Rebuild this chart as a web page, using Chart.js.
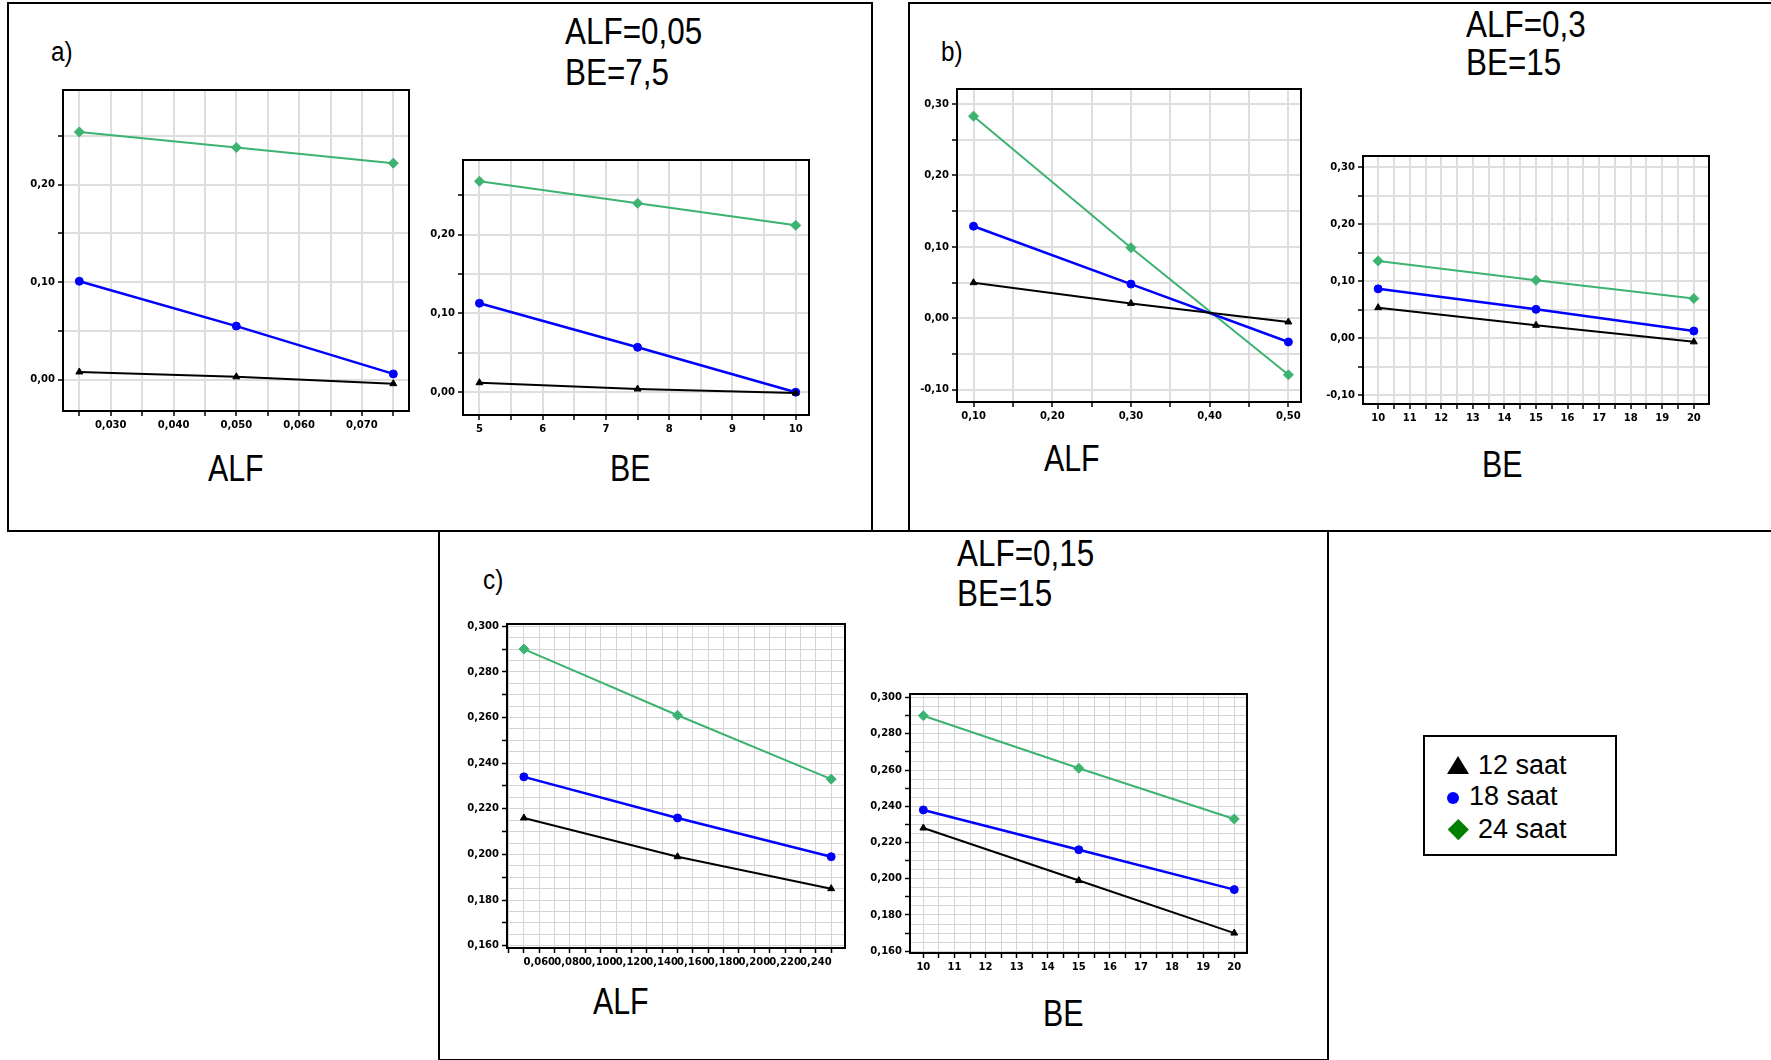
<!DOCTYPE html>
<html>
<head>
<meta charset="utf-8">
<title>ALF / BE</title>
<script src="https://cdn.jsdelivr.net/npm/chart.js@4.4.1/dist/chart.umd.min.js"></script>
<style>
  html, body { margin: 0; padding: 0; background: #fff; }
  body { width: 1771px; height: 1060px; position: relative; overflow: hidden;
         font-family: "Liberation Sans", Arial, sans-serif; color: #000; }
  .box { position: absolute; border: 2px solid #000; box-sizing: border-box; }
  .txt { position: absolute; line-height: 1; white-space: nowrap; transform-origin: 0 0; }
  .param { font-size: 37px; transform: scaleX(0.85); }
  .axis { font-size: 37px; transform: scaleX(0.82); }
  .tag { font-size: 27px; transform: scaleX(0.9); }
  .leg { font-size: 27px; }
  canvas { position: absolute; }
  .tri { position: absolute; width: 0; height: 0; border-left: 11px solid transparent;
         border-right: 11px solid transparent; border-bottom: 18px solid #000; }
  .dot { position: absolute; width: 12px; height: 12px; border-radius: 50%; background: #0000ff; }
  .dia { position: absolute; width: 14.6px; height: 14.6px; background: #008000; transform: rotate(45deg); }
</style>
</head>
<body>

<!-- panel frames -->
<div class="box" style="left:7px; top:2px; width:866px; height:530px;"></div>
<div class="box" style="left:908px; top:2px; width:870px; height:530px;"></div>
<div class="box" style="left:438px; top:530px; width:891px; height:531px;"></div>

<!-- panel a -->
<div class="txt tag" style="left:51px; top:39px;">a)</div>
<div class="txt param" style="left:565px; top:13px;">ALF=0,05</div>
<div class="txt param" style="left:565px; top:54px;">BE=7,5</div>
<div class="txt axis" style="left:208px; top:450px;">ALF</div>
<div class="txt axis" style="left:610px; top:450px;">BE</div>

<!-- panel b -->
<div class="txt tag" style="left:941px; top:39px;">b)</div>
<div class="txt param" style="left:1466px; top:6px;">ALF=0,3</div>
<div class="txt param" style="left:1466px; top:44px;">BE=15</div>
<div class="txt axis" style="left:1044px; top:440px;">ALF</div>
<div class="txt axis" style="left:1482px; top:446px;">BE</div>

<!-- panel c -->
<div class="txt tag" style="left:483px; top:567px;">c)</div>
<div class="txt param" style="left:957px; top:535px;">ALF=0,15</div>
<div class="txt param" style="left:957px; top:575px;">BE=15</div>
<div class="txt axis" style="left:593px; top:983px;">ALF</div>
<div class="txt axis" style="left:1043px; top:995px;">BE</div>

<!-- legend -->
<div class="box" style="left:1423px; top:735px; width:194px; height:121px;"></div>
<div class="tri" style="left:1447px; top:756px;"></div>
<div class="dot" style="left:1447px; top:792px;"></div>
<div class="dia" style="left:1450.7px; top:822.2px;"></div>
<div class="txt leg" id="leg0" style="left:1478px; top:752px;"></div>
<div class="txt leg" id="leg1" style="left:1469px; top:783px;"></div>
<div class="txt leg" id="leg2" style="left:1478px; top:816px;"></div>

<script>
const series = ['12 saat', '18 saat', '24 saat'];
const lineColors = ['#000000', '#0000ff', '#3cb371'];
const pointStyles = ['triangle', 'circle', 'rectRot'];

// a) ALF=0,05  BE=7,5
const aAlf = [0.025, 0.05, 0.075];
const aAlf12 = [0.008, 0.003, -0.004];
const aAlf18 = [0.101, 0.055, 0.006];
const aAlf24 = [0.254, 0.238, 0.222];
const aBe = [5, 7.5, 10];
const aBe12 = [0.012, 0.004, -0.001];
const aBe18 = [0.113, 0.057, 0.000];
const aBe24 = [0.268, 0.240, 0.212];

// b) ALF=0,3  BE=15
const bAlf = [0.10, 0.30, 0.50];
const bAlf12 = [0.050, 0.021, -0.005];
const bAlf18 = [0.129, 0.048, -0.033];
const bAlf24 = [0.283, 0.099, -0.079];
const bBe = [10, 15, 20];
const bBe12 = [0.054, 0.023, -0.006];
const bBe18 = [0.087, 0.051, 0.013];
const bBe24 = [0.136, 0.102, 0.070];

// c) ALF=0,15  BE=15
const cAlf = [0.05, 0.15, 0.25];
const cAlf12 = [0.216, 0.199, 0.185];
const cAlf18 = [0.234, 0.216, 0.199];
const cAlf24 = [0.290, 0.261, 0.233];
const cBe = [10, 15, 20];
const cBe12 = [0.228, 0.199, 0.170];
const cBe18 = [0.238, 0.216, 0.194];
const cBe24 = [0.290, 0.261, 0.233];

// tick labels
const aYLabels = ['0,00', '0,10', '0,20'];
const bYLabels = ['-0,10', '0,00', '0,10', '0,20', '0,30'];
const cYLabels = ['0,160', '0,180', '0,200', '0,220', '0,240', '0,260', '0,280', '0,300'];
const aAlfXLabels = ['0,030', '0,040', '0,050', '0,060', '0,070'];
const aBeXLabels = ['5', '6', '7', '8', '9', '10'];
const bAlfXLabels = ['0,10', '0,20', '0,30', '0,40', '0,50'];
const beXLabels = ['10', '11', '12', '13', '14', '15', '16', '17', '18', '19', '20'];
const cAlfXLabels = ['0,060', '0,080', '0,100', '0,120', '0,140', '0,160', '0,180', '0,200', '0,220', '0,240'];

series.forEach((s, i) => { document.getElementById('leg' + i).textContent = s; });

const Y_W = 50, X_H = 30, PAD_T = 8, PAD_R = 16;

const panels = [
  { plot: [63, 89, 409, 411], x: aAlf, ys: [aAlf12, aAlf18, aAlf24],
    xAxis: { min: 0.0224, max: 0.0775, step: 0.005, labels: aAlfXLabels },
    yAxis: { min: -0.032, max: 0.297, step: 0.05, labels: aYLabels } },
  { plot: [463, 159, 809, 415], x: aBe, ys: [aBe12, aBe18, aBe24],
    xAxis: { min: 4.74, max: 10.21, step: 0.5, labels: aBeXLabels },
    yAxis: { min: -0.029, max: 0.295, step: 0.05, labels: aYLabels } },
  { plot: [957, 88, 1301, 402], x: bAlf, ys: [bAlf12, bAlf18, bAlf24],
    xAxis: { min: 0.079, max: 0.516, step: 0.05, labels: bAlfXLabels },
    yAxis: { min: -0.117, max: 0.321, step: 0.05, labels: bYLabels } },
  { plot: [1363, 155, 1709, 404], x: bBe, ys: [bBe12, bBe18, bBe24],
    xAxis: { min: 9.52, max: 20.48, step: 0.5, labels: beXLabels },
    yAxis: { min: -0.115, max: 0.320, step: 0.05, labels: bYLabels } },
  { plot: [507, 623, 845, 948], x: cAlf, ys: [cAlf12, cAlf18, cAlf24], dense: true,
    xAxis: { min: 0.039, max: 0.259, step: 0.01, labels: cAlfXLabels },
    yAxis: { min: 0.159, max: 0.301, step: 0.005, tickEvery: 0.01, labels: cYLabels } },
  { plot: [910, 693, 1247, 953], x: cBe, ys: [cBe12, cBe18, cBe24], dense: true,
    xAxis: { min: 9.57, max: 20.41, step: 0.5, labels: beXLabels },
    yAxis: { min: 0.159, max: 0.302, step: 0.005, tickEvery: 0.01, labels: cYLabels } },
];

function labelValue(s) {
  return parseFloat(s.replace(',', '.'));
}

function tickValues(ax) {
  const out = [];
  let k = Math.ceil(ax.min / ax.step - 1e-9);
  for (; k * ax.step <= ax.max + 1e-9; k++) out.push(+(k * ax.step).toFixed(6));
  return out;
}

function onStep(v, step) {
  const r = v / step;
  return Math.abs(r - Math.round(r)) < 1e-6;
}

function axisOptions(ax, isX, dense) {
  const tol = ax.step * 1e-3;
  return {
    type: 'linear',
    min: ax.min,
    max: ax.max,
    afterBuildTicks: s => { s.ticks = tickValues(ax).map(v => ({ value: v })); },
    afterFit: s => { if (isX) s.height = X_H; else s.width = Y_W; },
    ticks: {
      autoSkip: false, maxRotation: 0, minRotation: 0, padding: 3, color: '#000',
      font: { family: 'DejaVu Sans', size: 10, weight: 'bold' },
      callback: v => ax.labels.find(l => Math.abs(labelValue(l) - v) < tol) || ''
    },
    grid: {
      color: dense ? '#d4d4d4' : '#dedede',
      lineWidth: dense ? 1 : 2,
      drawTicks: true, tickLength: 5, tickWidth: 1.5,
      tickColor: ctx => (ax.tickEvery && ctx.tick && !onStep(ctx.tick.value, ax.tickEvery)) ? 'rgba(0,0,0,0)' : '#000'
    },
    border: { display: false }
  };
}

// black frame round each plot area
const framePlugin = {
  id: 'frame',
  beforeDatasetsDraw(chart) {
    const a = chart.chartArea, c = chart.ctx;
    c.save();
    c.strokeStyle = '#000';
    c.lineWidth = 2;
    c.strokeRect(a.left, a.top, a.right - a.left, a.bottom - a.top);
    c.restore();
  }
};

panels.forEach(p => {
  const [L, T, R, B] = p.plot;
  const cv = document.createElement('canvas');
  cv.width = (R - L) + Y_W + PAD_R;
  cv.height = (B - T) + PAD_T + X_H;
  cv.style.left = (L - Y_W) + 'px';
  cv.style.top = (T - PAD_T) + 'px';
  cv.style.width = cv.width + 'px';
  cv.style.height = cv.height + 'px';
  document.body.appendChild(cv);

  new Chart(cv, {
    type: 'line',
    data: {
      datasets: p.ys.map((ys, i) => ({
        label: series[i],
        data: p.x.map((x, j) => ({ x: x, y: ys[j] })),
        borderColor: lineColors[i],
        backgroundColor: lineColors[i],
        borderWidth: i === 1 ? 2.5 : 2,
        pointStyle: pointStyles[i],
        pointRadius: i === 2 ? 5 : 4,
        pointBorderWidth: 1,
        tension: 0
      }))
    },
    options: {
      responsive: false,
      animation: false,
      events: [],
      layout: { padding: { top: PAD_T, right: PAD_R, left: 0, bottom: 0 } },
      plugins: { legend: { display: false }, tooltip: { enabled: false } },
      scales: {
        x: axisOptions(p.xAxis, true, p.dense),
        y: axisOptions(p.yAxis, false, p.dense)
      }
    },
    plugins: [framePlugin]
  });
});
</script>
</body>
</html>
